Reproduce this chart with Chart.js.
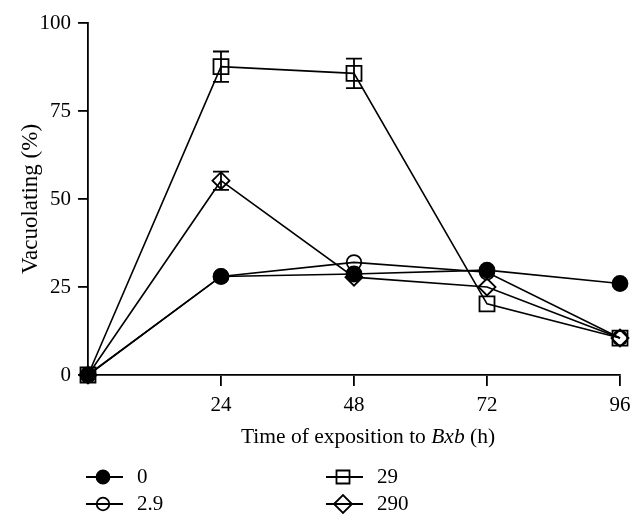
<!DOCTYPE html>
<html>
<head>
<meta charset="utf-8">
<script src="https://cdn.jsdelivr.net/npm/chart.js@4/dist/chart.umd.min.js"></script>
<style>
  html, body { margin: 0; padding: 0; background: #fff; }
  #wrap { width: 644px; height: 525px; }
</style>
</head>
<body>
<div id="wrap"><canvas id="c" width="644" height="525"></canvas></div>
<script>
// ---- data ----
const times = [0, 24, 48, 72, 96];
const xTicks = [24, 48, 72, 96];
const yTicks = [0, 25, 50, 75, 100];
const seriesLabels = ['0', '2.9', '29', '290'];
const vals0 = [0, 28, 28.7, 29.8, 26];
const vals2_9 = [0, 28, 32, 29.2, 10.5];
const vals29 = [0, 87.6, 85.7, 20.2, 10.5];
const vals290 = [0, 55.2, 27.8, 25, 10.5];
const err29 = [0, 4.3, 4.2, 0, 0];
const err290 = [0, 2.6, 0, 0, 0];

const FONT = "'Liberation Serif', 'Times New Roman', serif";
const toPts = (arr) => arr.map((v, i) => ({ x: times[i], y: v }));

function ds(label, data, style, radius, filled, err) {
  return {
    label, data: toPts(data), err,
    borderColor: '#000', backgroundColor: filled ? '#000' : 'rgba(0,0,0,0)',
    borderWidth: 1.6, pointStyle: style, pointRadius: radius, pointHoverRadius: radius,
    pointBorderWidth: 1.8, pointBorderColor: '#000',
    pointBackgroundColor: filled ? '#000' : 'rgba(0,0,0,0)',
    tension: 0, clip: false, fill: false
  };
}

const datasets = [
  ds(seriesLabels[3], vals290, 'rectRot', 8.5, false, err290),
  ds(seriesLabels[2], vals29, 'rect', 10.6, false, err29),
  ds(seriesLabels[1], vals2_9, 'circle', 7.3, false, null),
  ds(seriesLabels[0], vals0, 'circle', 7.5, true, null)
];

const errorBars = {
  id: 'errorBars',
  afterDatasetsDraw(chart) {
    const ctx = chart.ctx, xs = chart.scales.x, ys = chart.scales.y;
    ctx.save();
    ctx.strokeStyle = '#000';
    ctx.lineWidth = 1.8;
    chart.data.datasets.forEach(d => {
      if (!d.err) return;
      d.data.forEach((p, i) => {
        const e = d.err[i];
        if (!e) return;
        const px = xs.getPixelForValue(p.x);
        const top = ys.getPixelForValue(p.y + e);
        const bot = ys.getPixelForValue(p.y - e);
        ctx.beginPath();
        ctx.moveTo(px, top); ctx.lineTo(px, bot);
        ctx.moveTo(px - 8, top); ctx.lineTo(px + 8, top);
        ctx.moveTo(px - 8, bot); ctx.lineTo(px + 8, bot);
        ctx.stroke();
      });
    });
    ctx.restore();
  }
};

const extras = {
  id: 'extras',
  afterDraw(chart) {
    const ctx = chart.ctx;
    ctx.save();
    ctx.fillStyle = '#000';
    ctx.textBaseline = 'middle';
    // x axis title with italic part
    const parts = [
      { t: 'Time of exposition to ', f: '21.5px ' + FONT },
      { t: 'Bxb', f: 'italic 21.5px ' + FONT },
      { t: ' (h)', f: '21.5px ' + FONT }
    ];
    let total = 0;
    parts.forEach(p => { ctx.font = p.f; p.w = ctx.measureText(p.t).width; total += p.w; });
    const area = chart.chartArea;
    let x = (area.left + area.right) / 2 + 14 - total / 2;
    parts.forEach(p => { ctx.font = p.f; ctx.textAlign = 'left'; ctx.fillStyle = '#000'; ctx.fillText(p.t, x, 437); x += p.w; });

    // legend
    const items = [
      { lab: seriesLabels[0], style: 'circle', r: 6.5, fill: true, x: 103, y: 477 },
      { lab: seriesLabels[1], style: 'circle', r: 6.3, fill: false, x: 103, y: 504 },
      { lab: seriesLabels[2], style: 'rect', r: 9.2, fill: false, x: 343, y: 477 },
      { lab: seriesLabels[3], style: 'rectRot', r: 9, fill: false, x: 343, y: 504 }
    ];
    items.forEach(it => {
      ctx.strokeStyle = '#000';
      ctx.lineWidth = 1.8;
      ctx.beginPath();
      ctx.moveTo(it.x - 17, it.y); ctx.lineTo(it.x + 20, it.y);
      ctx.stroke();
      ctx.fillStyle = it.fill ? '#000' : 'rgba(0,0,0,0)';
      Chart.helpers.drawPoint(ctx, { pointStyle: it.style, radius: it.r, borderWidth: 1.8 }, it.x, it.y);
      ctx.fillStyle = '#000';
      ctx.font = '21px ' + FONT;
      ctx.textAlign = 'left';
      ctx.fillText(it.lab, it.x + 34, it.y);
    });
    ctx.restore();
  }
};

new Chart(document.getElementById('c'), {
  type: 'line',
  data: { datasets },
  options: {
    responsive: false,
    animation: false,
    events: [],
    layout: { padding: { left: 0, right: 24, top: 23, bottom: 0 } },
    plugins: { legend: { display: false }, tooltip: { enabled: false } },
    scales: {
      x: {
        type: 'linear', min: 0, max: 96,
        afterBuildTicks: (s) => { s.ticks = xTicks.map(v => ({ value: v })); },
        afterFit: (s) => { s.height = 150; },
        border: { display: true, color: '#000', width: 1.8 },
        grid: { display: true, drawOnChartArea: false, drawTicks: true, tickLength: 11, color: '#000', lineWidth: 1.8 },
        ticks: { color: '#000', font: { family: FONT, size: 21 }, padding: 7, maxRotation: 0 }
      },
      y: {
        type: 'linear', min: 0, max: 100,
        afterBuildTicks: (s) => { s.ticks = yTicks.map(v => ({ value: v })); },
        afterFit: (s) => { s.width = 88; },
        border: { display: true, color: '#000', width: 1.8 },
        grid: { display: true, drawOnChartArea: false, drawTicks: true, tickLength: 10, color: '#000', lineWidth: 1.8 },
        ticks: { color: '#000', font: { family: FONT, size: 21 }, padding: 7 },
        title: { display: true, text: 'Vacuolating (%)', color: '#000', font: { family: FONT, size: 23, lineHeight: 1.2 }, padding: { top: 17, bottom: 0 } }
      }
    }
  },
  plugins: [errorBars, extras]
});
</script>
</body>
</html>
